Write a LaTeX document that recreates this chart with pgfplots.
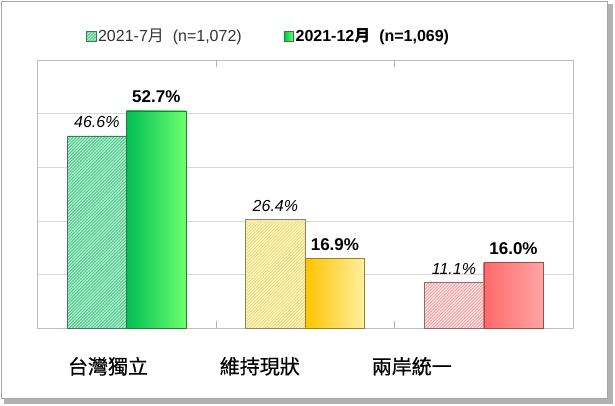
\documentclass[border=0pt]{standalone}
\usepackage{fontspec}
\setmainfont{Liberation Sans}
\newfontfamily\cjk{Noto Sans CJK TC}
\newfontfamily\cjkm[FakeBold=0.6]{Noto Sans CJK TC}
\usepackage{pgfplots}
\pgfplotsset{compat=1.18}
\usetikzlibrary{patterns.meta}
\definecolor{gHatch}{HTML}{58C88E}
\definecolor{gHatchL}{HTML}{B0F0D0}
\definecolor{gHatchB}{HTML}{3C7A5A}
\definecolor{gL}{HTML}{00BF55}
\definecolor{gR}{HTML}{6CFF6C}
\definecolor{gB}{HTML}{2A7A40}
\definecolor{yHatch}{HTML}{EEDC80}
\definecolor{yHatchL}{HTML}{FFF6C8}
\definecolor{yHatchB}{HTML}{8E8466}
\definecolor{yL}{HTML}{FFC400}
\definecolor{yR}{HTML}{FFF0A0}
\definecolor{yB}{HTML}{9A8020}
\definecolor{rHatch}{HTML}{EEAAAA}
\definecolor{rHatchL}{HTML}{FFE2E2}
\definecolor{rHatchB}{HTML}{8E6A6A}
\definecolor{rL}{HTML}{FF6A6A}
\definecolor{rR}{HTML}{FFA4A4}
\definecolor{rB}{HTML}{A04A4A}
\tikzset{
  hatchg/.style={draw=gHatchB, preaction={fill=gHatch}, pattern={Lines[angle=45,distance=2.2pt,line width=1.0pt]}, pattern color=gHatchL},
  hatchy/.style={draw=yHatchB, preaction={fill=yHatch}, pattern={Lines[angle=45,distance=2.2pt,line width=1.0pt]}, pattern color=yHatchL},
  hatchr/.style={draw=rHatchB, preaction={fill=rHatch}, pattern={Lines[angle=45,distance=2.2pt,line width=1.0pt]}, pattern color=rHatchL},
  solidg/.style={draw=gB, left color=gL, right color=gR},
  solidy/.style={draw=yB, left color=yL, right color=yR},
  solidr/.style={draw=rB, left color=rL, right color=rR},
}
\begin{document}
\begin{tikzpicture}[x=1pt,y=1pt]
\useasboundingbox (0,0) rectangle (615,405);
\fill[gray!60] (4,1) rectangle (613,401);
\filldraw[fill=white, draw=gray!70, line width=0.8pt] (1,7) rectangle (607,404);
\begin{axis}[
  at={(37.3pt,76.7pt)}, anchor=south west,
  scale only axis, width=535.7pt, height=268.3pt,
  xmin=-0.5, xmax=2.5, ymin=0, ymax=65,
  ytick={0,13,...,65}, yticklabels={}, ymajorgrids,
  grid style={color=black!15, line width=0.6pt},
  major tick length=0pt,
  axis line style={color=black!25, line width=0.6pt},
  xtick={-0.104,0.746,1.597},
  xticklabels={台灣獨立,維持現狀,兩岸統一},
  xticklabel style={font=\cjkm\fontsize{20}{20}\selectfont, anchor=center, yshift=-38pt},
  extra x ticks={0.5,1.5}, extra x tick labels={},
  extra x tick style={major tick length=7pt, tick align=inside, tick style={color=black!30}},
  clip=false,
  /pgf/number format/assume math mode=true,
  legend columns=2,
  legend style={draw=none, fill=none, inner sep=0pt, at={(axis description cs:0.0909,1.0894)}, anchor=west,
    font=\fontsize{16}{16}\selectfont,
    /tikz/every even column/.append style={column sep=40pt},
    /tikz/every odd column/.append style={column sep=0pt}},
  legend cell align=left,
]
\addlegendimage{legend image code/.code={\path[hatchg] (0pt,-4.8pt) rectangle (9.5pt,4.8pt);}}
\addlegendimage{legend image code/.code={\path[solidg] (0pt,-4.8pt) rectangle (9.5pt,4.8pt);}}
\legend{{\color{black!80}2021-7{\cjk 月}\ \ (n=1,072)}, {\bfseries 2021-12{\cjk\bfseries 月}\ \ (n=1,069)}}

\pgfplotsset{
  lab/.style={nodes near coords={\pgfmathprintnumber[fixed,precision=1,fixed zerofill]{\pgfplotspointmeta}\%},
    every node near coord/.append style={text=black, font=\itshape\fontsize{16}{16}\selectfont, yshift=4.5pt, xshift=-29.75pt}},
  labb/.style={nodes near coords={\pgfmathprintnumber[fixed,precision=1,fixed zerofill]{\pgfplotspointmeta}\%},
    every node near coord/.append style={text=black, font=\bfseries\fontsize{17}{17}\selectfont, yshift=4.5pt, xshift=29.75pt}},
}
\addplot[ybar, bar width=59.5pt, bar shift=-29.75pt, hatchg, lab, forget plot] coordinates {(0,46.6)};
\addplot[ybar, bar width=59.5pt, bar shift=29.75pt, solidg, labb, forget plot] coordinates {(0,52.7)};
\addplot[ybar, bar width=59.5pt, bar shift=-29.75pt, hatchy, lab, forget plot] coordinates {(1,26.4)};
\addplot[ybar, bar width=59.5pt, bar shift=29.75pt, solidy, labb, forget plot] coordinates {(1,16.9)};
\addplot[ybar, bar width=59.5pt, bar shift=-29.75pt, hatchr, lab, forget plot] coordinates {(2,11.1)};
\addplot[ybar, bar width=59.5pt, bar shift=29.75pt, solidr, labb, forget plot] coordinates {(2,16.0)};
\end{axis}
\end{tikzpicture}
\end{document}
